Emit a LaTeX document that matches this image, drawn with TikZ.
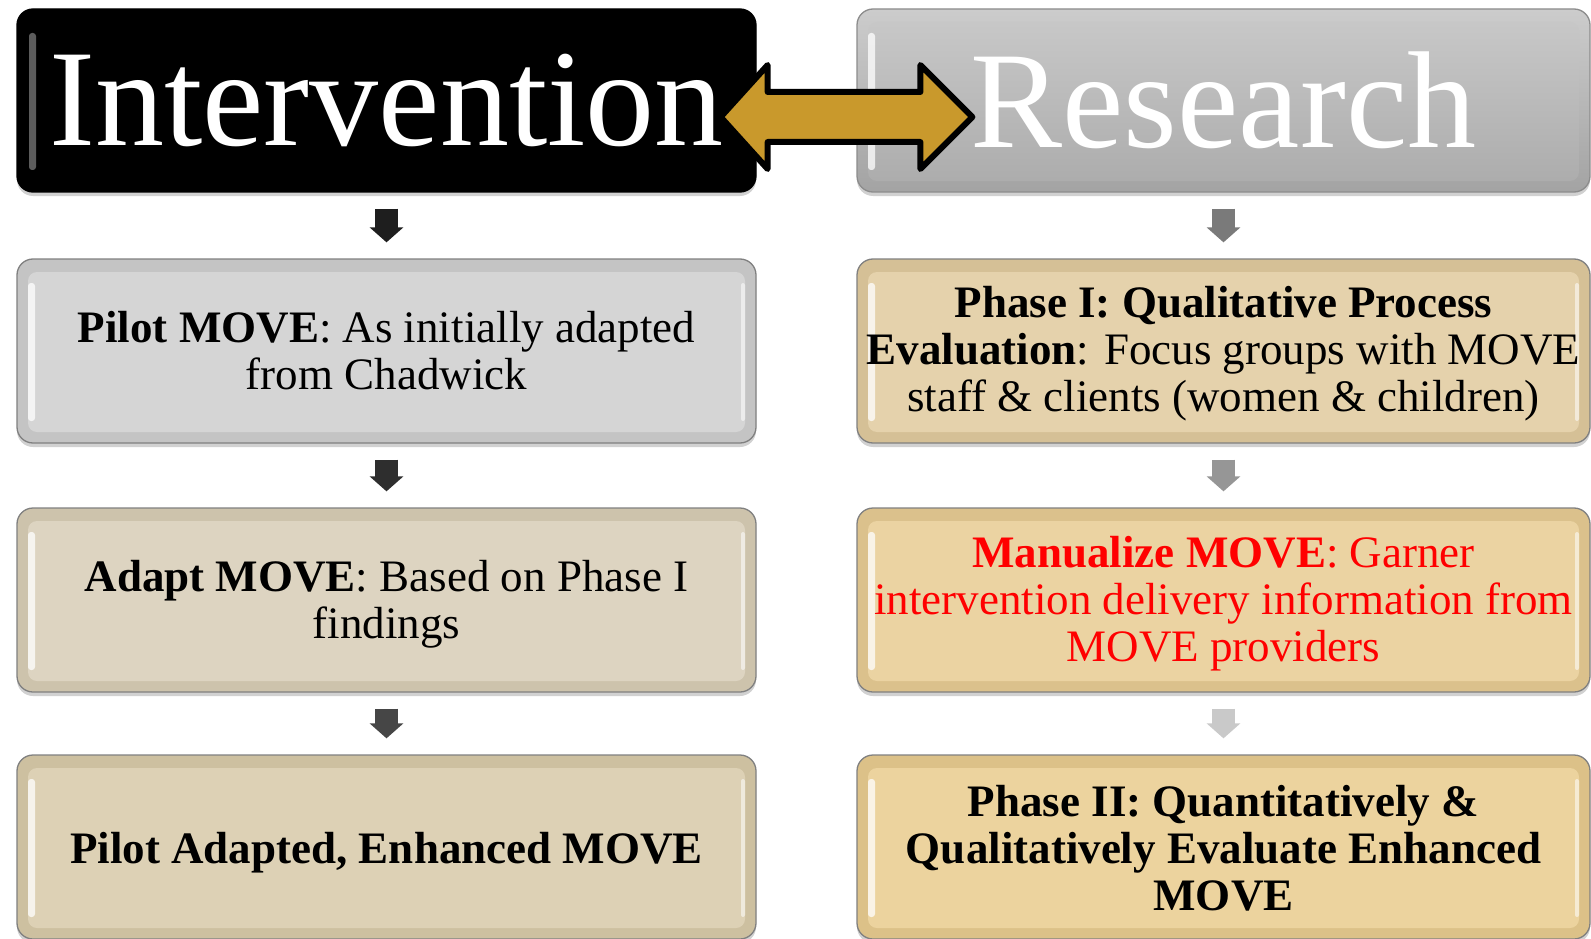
\documentclass[tikz,border=0pt]{standalone}
\usepackage{fontspec}
\setmainfont{Liberation Serif}
\usetikzlibrary{calc,shadows,arrows.meta}

\definecolor{goldfill}{RGB}{201,153,44}
\definecolor{textred}{RGB}{255,0,0}
% panel faces and rims
\definecolor{faceA}{RGB}{213,213,213}\definecolor{rimA}{RGB}{196,196,196}
\definecolor{faceB}{RGB}{221,212,193}\definecolor{rimB}{RGB}{205,195,172}
\definecolor{faceC}{RGB}{221,209,181}\definecolor{rimC}{RGB}{205,192,160}
\definecolor{faceD}{RGB}{229,210,172}\definecolor{rimD}{RGB}{213,192,150}
\definecolor{faceE}{RGB}{235,211,162}\definecolor{rimE}{RGB}{219,193,140}
\definecolor{faceF}{RGB}{236,211,158}\definecolor{rimF}{RGB}{220,193,136}
% small flow arrows
\definecolor{arL1}{RGB}{30,30,30}\definecolor{arL2}{RGB}{46,46,46}\definecolor{arL3}{RGB}{70,70,70}
\definecolor{arR1}{RGB}{122,122,122}\definecolor{arR2}{RGB}{150,150,150}\definecolor{arR3}{RGB}{201,201,201}

% inner bevelled face of a panel, drawn inside its path picture
\newcommand\bevelface[1]{%
  \fill[#1, rounded corners=9pt]
    ($(path picture bounding box.south west)+(11,-11)$) rectangle
    ($(path picture bounding box.north east)+(-11,13)$);
  \fill[white, opacity=.75, rounded corners=3pt]
    ($(path picture bounding box.south west)+(11,-22)$) rectangle
    ($(path picture bounding box.north west)+(18,24)$);
  \fill[white, opacity=.55, rounded corners=2pt]
    ($(path picture bounding box.south east)+(-11,-22)$) rectangle
    ($(path picture bounding box.north east)+(-15,24)$);
}
\newcommand\greyface{%
  \shade[top color=black!21, bottom color=black!33, rounded corners=9pt]
    ($(path picture bounding box.south west)+(11,-11)$) rectangle
    ($(path picture bounding box.north east)+(-11,13)$);
  \fill[white, opacity=.75, rounded corners=3pt]
    ($(path picture bounding box.south west)+(11,-22)$) rectangle
    ($(path picture bounding box.north west)+(18,24)$);
}
\newcommand\blackface{%
  \fill[black!55, opacity=.8, rounded corners=3pt]
    ($(path picture bounding box.south west)+(12,-22)$) rectangle
    ($(path picture bounding box.north west)+(19,24)$);
}
% raises the top of a text block so that it sits a little lower
\newcommand\tallstrut[1]{\rule{0pt}{#1}}

\tikzset{
  panel/.style={rounded corners=16pt, minimum height=184pt, inner sep=0pt,
    align=center, line width=1.3pt, draw=black!50,
    drop shadow={shadow xshift=0pt, shadow yshift=-4pt, opacity=.3, fill=black!60},
    font=\fontsize{45}{47}\selectfont},
  leftpanel/.style={panel, minimum width=739pt},
  rightpanel/.style={panel, minimum width=733pt},
  headtext/.style={text=white, font=\fontsize{138}{140}\selectfont},
  flow/.style={line width=23pt, -{Triangle[width=33pt,length=15pt]},
    shorten <=16pt, shorten >=16pt},
}

\begin{document}
\begin{tikzpicture}[x=1pt, y=-1pt]
\useasboundingbox (0,0) rectangle (1591,939);

% headings
\node[leftpanel, headtext, fill=black, draw=black, minimum height=183pt,
      path picture={\blackface}] (int) at (386.5,100.5) {Intervention};
\node[rightpanel, headtext, top color=black!20, bottom color=black!36,
      draw=black!45, minimum height=183pt,
      path picture={\greyface}] (res) at (1223.5,100.5) {Research};

% intervention column
\node[leftpanel, fill=rimA, path picture={\bevelface{faceA}}] (i1) at (386.5,351)
  {\textbf{Pilot MOVE}: As initially adapted\\from Chadwick};
\node[leftpanel, fill=rimB, path picture={\bevelface{faceB}}] (i2) at (386.5,600)
  {\tallstrut{39pt}\textbf{Adapt MOVE}: Based on Phase I\\findings};
\node[leftpanel, fill=rimC, path picture={\bevelface{faceC}}] (i3) at (386.5,847)
  {\tallstrut{43pt}\textbf{Pilot Adapted, Enhanced MOVE}};

% research column
\node[rightpanel, fill=rimD, path picture={\bevelface{faceD}}] (r1) at (1223.5,351)
  {\tallstrut{37pt}\textbf{Phase I: Qualitative Process}\\\textbf{Evaluation}: Focus groups with MOVE\\staff \& clients (women \& children)};
\node[rightpanel, fill=rimE, text=textred, path picture={\bevelface{faceE}}] (r2) at (1223.5,600)
  {\tallstrut{39pt}\textbf{Manualize MOVE}: Garner\\intervention delivery information from\\MOVE providers};
\node[rightpanel, fill=rimF, path picture={\bevelface{faceF}}] (r3) at (1223.5,847)
  {\tallstrut{33pt}\textbf{Phase II: Quantitatively \&}\\\textbf{Qualitatively Evaluate Enhanced}\\\textbf{MOVE}};

% downward flow arrows
\draw[flow, arL1] (int.south) -- (i1.north);
\draw[flow, arL2] (i1.south) -- (i2.north);
\draw[flow, arL3] (i2.south) -- (i3.north);
\draw[flow, arR1] (res.south) -- (r1.north);
\draw[flow, arR2] (r1.south) -- (r2.north);
\draw[flow, arR3] (r2.south) -- (r3.north);

% two-way arrow between the headings
\coordinate (L) at ($(int.east)+(-36,16.5)$);
\coordinate (R) at ($(res.west)+(116,16.5)$);
\filldraw[fill=goldfill, draw=black, line width=6pt, line join=round]
  (L) -- ($(L)+(47,-52)$) -- ($(L)+(47,-25)$) -- ($(R)+(-52,-25)$)
  -- ($(R)+(-52,-52)$) -- (R) -- ($(R)+(-52,52)$) -- ($(R)+(-52,25)$)
  -- ($(L)+(47,25)$) -- ($(L)+(47,52)$) -- cycle;
\end{tikzpicture}
\end{document}
